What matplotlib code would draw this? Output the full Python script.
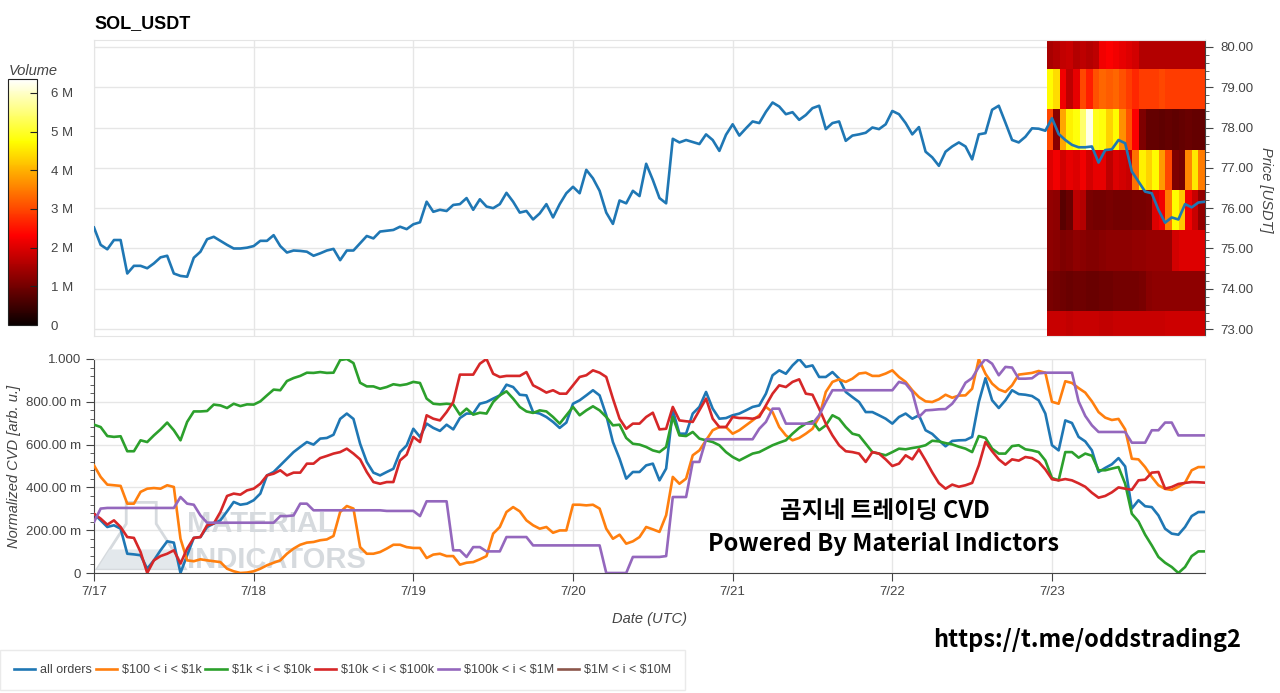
import numpy as np
import matplotlib
matplotlib.use('Agg')
import matplotlib.pyplot as plt
from matplotlib.ticker import MultipleLocator, FuncFormatter
from matplotlib.patches import Polygon

plt.rcParams['font.family'] = ['Liberation Sans', 'DejaVu Sans']

W, H = 1280, 693

# hourly samples, 7/17 00:00 .. 7/23 23:00 (UTC)
hours = np.arange(168)
day_ticks = [0, 24, 48, 72, 96, 120, 144]
day_labels = ['7/17', '7/18', '7/19', '7/20', '7/21', '7/22', '7/23']

price = [
    75.52, 75.09, 74.98, 75.21, 75.21, 74.38, 74.57, 74.57, 74.51, 74.63,
    74.78, 74.82, 74.38, 74.32, 74.30, 74.77, 74.92, 75.23, 75.29, 75.19,
    75.09, 75.00, 75.00, 75.02, 75.06, 75.19, 75.19, 75.33, 75.06, 74.90,
    74.95, 74.94, 74.92, 74.82, 74.88, 74.95, 74.99, 74.71, 74.95, 74.95,
    75.13, 75.31, 75.25, 75.42, 75.44, 75.46,
    75.54, 75.48, 75.60, 75.65, 76.16, 75.91, 75.96, 75.93, 76.08, 76.10,
    76.25, 75.96, 76.22, 76.04, 76.00, 76.10, 76.38, 76.16, 75.89, 75.93,
    75.72, 75.87, 76.10, 75.77, 76.10, 76.37, 76.53, 76.37, 76.95, 76.74,
    76.43, 75.89, 75.61, 76.19, 76.12, 76.43, 76.30, 77.10, 76.70, 76.25,
    76.12, 77.72, 77.63, 77.69, 77.64, 77.59, 77.83, 77.69, 77.42, 77.82,
    78.08, 77.80, 77.98, 78.15, 78.11, 78.39, 78.62, 78.52, 78.33, 78.38,
    78.19, 78.31, 78.48, 78.54, 77.96, 78.11, 78.15, 77.67, 77.80, 77.83,
    77.87, 78.00, 77.96, 78.08, 78.41, 78.33, 78.11, 77.83, 78.01, 77.40,
    77.26, 77.05, 77.40, 77.53, 77.63, 77.53, 77.21, 77.83, 77.86, 78.44,
    78.54, 78.12, 77.69, 77.63, 77.77, 77.98, 77.97, 77.92,
    78.23, 77.84, 77.69, 77.57, 77.51, 77.51, 77.53, 77.13, 77.44, 77.46,
    77.69, 77.61, 76.91, 76.66, 76.41, 76.37, 75.96, 75.64, 75.77, 75.72,
    76.10, 76.02, 76.14, 76.16,
]

cvd_all = [
    0.277, 0.246, 0.215, 0.223, 0.207, 0.090, 0.087, 0.083, 0.020, 0.059,
    0.106, 0.148, 0.142, 0.000, 0.083, 0.164, 0.168, 0.215, 0.231, 0.246,
    0.288, 0.332, 0.319, 0.324, 0.340, 0.371, 0.456, 0.472, 0.503, 0.534,
    0.565, 0.589, 0.612, 0.600, 0.628, 0.631, 0.646, 0.720, 0.745, 0.720,
    0.604, 0.519, 0.469, 0.456,
    0.472, 0.487, 0.565, 0.596, 0.674, 0.636, 0.698, 0.678, 0.664, 0.693,
    0.671, 0.724, 0.745, 0.745, 0.791, 0.799, 0.815, 0.830, 0.880, 0.869,
    0.833, 0.830, 0.752, 0.745, 0.729, 0.706, 0.678, 0.703, 0.791, 0.807,
    0.830, 0.854, 0.830, 0.737, 0.612, 0.534, 0.441, 0.472, 0.472, 0.503,
    0.511, 0.433,
    0.488, 0.760, 0.651, 0.651, 0.745, 0.776, 0.846, 0.768, 0.721, 0.724,
    0.737, 0.745, 0.760, 0.776, 0.783, 0.838, 0.924, 0.947, 0.931, 0.970,
    1.000, 0.963, 0.970, 0.916, 0.916, 0.939, 0.908, 0.846, 0.822, 0.799,
    0.752, 0.752, 0.737, 0.721, 0.698, 0.729, 0.745, 0.721, 0.737, 0.667,
    0.650, 0.620, 0.592, 0.617, 0.620, 0.621, 0.636, 0.799, 0.910, 0.807,
    0.771, 0.807, 0.854, 0.836, 0.833, 0.827, 0.807, 0.745, 0.597, 0.573,
    0.713, 0.701, 0.636, 0.615, 0.573, 0.472, 0.491, 0.508, 0.537, 0.498,
    0.301, 0.340, 0.312, 0.308, 0.269, 0.207, 0.184, 0.179, 0.215, 0.266,
    0.285, 0.285,
]

cvd_100_1k = [
    0.503, 0.449, 0.413, 0.410, 0.407, 0.324, 0.324, 0.379, 0.394, 0.397,
    0.394, 0.410, 0.402, 0.160, 0.059, 0.055, 0.064, 0.059, 0.055, 0.051,
    0.020, 0.008, 0.000, 0.002, 0.008, 0.020, 0.036, 0.048, 0.059, 0.090,
    0.114, 0.132, 0.142, 0.145, 0.153, 0.157, 0.173, 0.285, 0.313, 0.301,
    0.121, 0.090, 0.090, 0.098,
    0.114, 0.132, 0.132, 0.121, 0.117, 0.117, 0.070, 0.086, 0.090, 0.079,
    0.079, 0.039, 0.048, 0.051, 0.064, 0.079, 0.184, 0.215, 0.285, 0.308,
    0.288, 0.246, 0.223, 0.207, 0.215, 0.188, 0.199, 0.199, 0.319, 0.319,
    0.316, 0.319, 0.301, 0.207, 0.160, 0.179, 0.137, 0.148, 0.168, 0.215,
    0.204, 0.192,
    0.270, 0.449, 0.417, 0.441, 0.550, 0.573, 0.620, 0.667, 0.682, 0.682,
    0.651, 0.667, 0.690, 0.713, 0.737, 0.776, 0.752, 0.682, 0.643, 0.620,
    0.631, 0.651, 0.674, 0.729, 0.846, 0.893, 0.905, 0.893, 0.908, 0.932,
    0.936, 0.921, 0.921, 0.932, 0.947, 0.916, 0.893, 0.854, 0.822, 0.802,
    0.799, 0.812, 0.833, 0.819, 0.829, 0.830, 0.861, 1.000, 0.931, 0.885,
    0.858, 0.846, 0.877, 0.927, 0.931, 0.935, 0.944, 0.936, 0.800, 0.791,
    0.896, 0.888, 0.864, 0.843, 0.802, 0.752, 0.726, 0.715, 0.720, 0.671,
    0.534, 0.531, 0.495, 0.449, 0.410, 0.393, 0.388, 0.403, 0.422, 0.480,
    0.495, 0.495,
]

cvd_1k_10k = [
    0.693, 0.682, 0.640, 0.636, 0.639, 0.569, 0.569, 0.620, 0.612, 0.643,
    0.671, 0.703, 0.667, 0.620, 0.706, 0.755, 0.755, 0.757, 0.787, 0.783,
    0.771, 0.791, 0.780, 0.788, 0.787, 0.802, 0.830, 0.857, 0.854, 0.897,
    0.911, 0.921, 0.936, 0.935, 0.939, 0.935, 0.936, 0.995, 1.000, 0.981,
    0.889, 0.872, 0.872, 0.861,
    0.869, 0.882, 0.877, 0.882, 0.893, 0.888, 0.815, 0.791, 0.788, 0.791,
    0.788, 0.740, 0.768, 0.740, 0.749, 0.745, 0.799, 0.830, 0.849, 0.815,
    0.776, 0.755, 0.748, 0.760, 0.755, 0.729, 0.698, 0.737, 0.776, 0.737,
    0.760, 0.779, 0.760, 0.729, 0.690, 0.693, 0.631, 0.604, 0.600, 0.589,
    0.573, 0.565,
    0.589, 0.729, 0.643, 0.640, 0.659, 0.628, 0.620, 0.612, 0.597, 0.565,
    0.542, 0.526, 0.542, 0.558, 0.565, 0.581, 0.597, 0.609, 0.620, 0.651,
    0.678, 0.698, 0.709, 0.667, 0.690, 0.737, 0.721, 0.682, 0.651, 0.643,
    0.604, 0.565, 0.558, 0.550, 0.565, 0.581, 0.578, 0.584, 0.589, 0.597,
    0.618, 0.615, 0.607, 0.601, 0.590, 0.581, 0.565, 0.640, 0.631, 0.581,
    0.558, 0.558, 0.593, 0.597, 0.578, 0.573, 0.565, 0.526, 0.444, 0.433,
    0.565, 0.565, 0.539, 0.558, 0.548, 0.480, 0.480, 0.488, 0.495, 0.417,
    0.277, 0.241, 0.179, 0.129, 0.075, 0.048, 0.028, 0.000, 0.028, 0.079,
    0.101, 0.101,
]

cvd_10k_100k = [
    0.277, 0.254, 0.226, 0.246, 0.215, 0.168, 0.164, 0.098, 0.000, 0.059,
    0.079, 0.090, 0.106, 0.044, 0.114, 0.164, 0.168, 0.223, 0.231, 0.285,
    0.360, 0.371, 0.366, 0.386, 0.394, 0.417, 0.456, 0.464, 0.480, 0.456,
    0.469, 0.469, 0.511, 0.511, 0.537, 0.547, 0.558, 0.565, 0.581, 0.558,
    0.531, 0.472, 0.425, 0.417,
    0.425, 0.425, 0.526, 0.553, 0.636, 0.612, 0.737, 0.721, 0.713, 0.752,
    0.799, 0.927, 0.927, 0.927, 0.978, 1.000, 0.931, 0.916, 0.921, 0.921,
    0.921, 0.939, 0.877, 0.861, 0.843, 0.854, 0.838, 0.838, 0.877, 0.916,
    0.924, 0.947, 0.936, 0.916, 0.815, 0.721, 0.674, 0.698, 0.698, 0.729,
    0.749, 0.671,
    0.674, 0.776, 0.713, 0.709, 0.706, 0.760, 0.815, 0.721, 0.682, 0.682,
    0.729, 0.724, 0.724, 0.721, 0.729, 0.783, 0.838, 0.877, 0.869, 0.893,
    0.905, 0.838, 0.833, 0.768, 0.698, 0.643, 0.597, 0.569, 0.565, 0.558,
    0.519, 0.565, 0.558, 0.531, 0.500, 0.511, 0.550, 0.531, 0.578, 0.526,
    0.470, 0.420, 0.394, 0.413, 0.403, 0.410, 0.421, 0.503, 0.612, 0.569,
    0.531, 0.506, 0.531, 0.525, 0.542, 0.537, 0.519, 0.484, 0.438, 0.433,
    0.439, 0.433, 0.419, 0.403, 0.375, 0.352, 0.360, 0.377, 0.400, 0.394,
    0.389, 0.433, 0.436, 0.469, 0.472, 0.394, 0.402, 0.416, 0.421, 0.425,
    0.424, 0.422,
]

cvd_100k_1m = [
    0.238, 0.301, 0.304, 0.304, 0.304, 0.304, 0.304, 0.304, 0.304, 0.304,
    0.304, 0.304, 0.304, 0.355, 0.324, 0.319, 0.269, 0.235, 0.235, 0.235,
    0.235, 0.235, 0.235, 0.235, 0.235, 0.235, 0.235, 0.235, 0.266, 0.266,
    0.269, 0.324, 0.324, 0.293, 0.293, 0.293, 0.293, 0.293, 0.293, 0.293,
    0.293, 0.293, 0.293, 0.293,
    0.290, 0.290, 0.290, 0.290, 0.290, 0.266, 0.335, 0.335, 0.335, 0.335,
    0.106, 0.106, 0.075, 0.121, 0.121, 0.101, 0.101, 0.101, 0.168, 0.168,
    0.168, 0.168, 0.129, 0.129, 0.129, 0.129, 0.129, 0.129, 0.129, 0.129,
    0.129, 0.129, 0.129, 0.000, 0.000, 0.000, 0.000, 0.075, 0.075, 0.075,
    0.075, 0.075,
    0.079, 0.355, 0.355, 0.355, 0.519, 0.519, 0.625, 0.625, 0.625, 0.625,
    0.625, 0.625, 0.625, 0.625, 0.674, 0.706, 0.768, 0.768, 0.698, 0.698,
    0.698, 0.698, 0.698, 0.737, 0.799, 0.854, 0.854, 0.854, 0.854, 0.854,
    0.854, 0.854, 0.854, 0.854, 0.854, 0.893, 0.885, 0.846, 0.729, 0.760,
    0.762, 0.765, 0.766, 0.791, 0.833, 0.889, 0.911, 0.963, 1.000, 0.978,
    0.924, 0.963, 0.960, 0.908, 0.908, 0.910, 0.933, 0.936, 0.936, 0.936,
    0.936, 0.936, 0.802, 0.734, 0.690, 0.659, 0.659, 0.659, 0.659, 0.659,
    0.609, 0.609, 0.609, 0.667, 0.667, 0.703, 0.703, 0.643, 0.643, 0.643,
    0.643, 0.643,
]

# order-book volume heatmap on the last day (millions), price bins 73..80
hm_price_edges = [72.45, 73.45, 74.45, 75.45, 76.45, 77.45, 78.45, 79.45, 80.45]
hm_start, hm_end = 143.2, 167.0
vol_73 = [1.8, 1.8, 1.8, 1.75, 1.8, 1.8, 1.8, 1.8, 1.75, 1.75, 1.8, 1.8,
          1.8, 1.8, 1.8, 1.8, 1.8, 1.8, 1.85, 1.85, 1.85, 1.85, 1.85, 1.85]
vol_74 = [1.05, 1.0, 0.95, 0.9, 0.95, 0.95, 0.9, 0.9, 0.95, 0.95, 1.0, 1.0,
          1.0, 1.0, 1.05, 1.2, 1.25, 1.25, 1.25, 1.25, 1.25, 1.25, 1.25, 1.25]
vol_75 = [1.25, 1.2, 1.1, 1.15, 1.25, 1.2, 1.15, 1.15, 1.2, 1.25, 1.25, 1.25,
          1.25, 1.3, 1.3, 1.35, 1.35, 1.35, 1.35, 1.9, 2.0, 2.0, 2.0, 2.0]
vol_76 = [1.3, 1.25, 0.75, 0.9, 1.7, 1.6, 1.05, 1.0, 1.0, 1.05, 1.0, 1.0,
          1.0, 1.05, 1.05, 1.1, 2.0, 2.2, 3.5, 4.7, 4.2, 2.2, 1.8, 1.3]
vol_77 = [2.0, 2.2, 1.9, 2.1, 2.0, 2.2, 1.9, 2.1, 2.1, 1.7, 2.0, 1.9,
          1.8, 3.4, 4.6, 4.3, 4.7, 3.8, 3.0, 1.1, 1.0, 3.6, 4.5, 3.5]
vol_78 = [3.0, 1.2, 3.9, 4.6, 4.8, 5.4, 6.2, 4.9, 4.8, 4.3, 4.7, 3.7,
          3.1, 2.3, 1.1, 0.85, 0.85, 0.8, 0.85, 0.8, 0.85, 0.9, 0.85, 0.85]
vol_79 = [4.7, 4.4, 2.2, 1.7, 2.1, 3.0, 2.6, 3.1, 3.3, 3.2, 3.3, 3.1,
          2.9, 2.7, 2.9, 2.9, 2.9, 3.0, 2.9, 2.9, 2.9, 2.9, 2.9, 2.9]
vol_80 = [1.5, 1.6, 1.75, 1.8, 1.6, 1.7, 1.6, 1.7, 2.2, 2.3, 2.2, 2.1,
          2.0, 1.9, 1.6, 1.6, 1.6, 1.6, 1.6, 1.6, 1.6, 1.6, 1.6, 1.6]
vol_max = 6.36

series = [
    (cvd_all, 'all orders', '#1f77b4'),
    (cvd_100_1k, r'\$100 < i < \$1k', '#ff7f0e'),
    (cvd_1k_10k, r'\$1k < i < \$10k', '#2ca02c'),
    (cvd_10k_100k, r'\$10k < i < \$100k', '#d62728'),
    (cvd_100k_1m, r'\$100k < i < \$1M', '#9467bd'),
]

grid_c = '#e6e6e6'
axis_c = '#444444'
wm_c = '#d6dade'

fig = plt.figure(figsize=(W / 100, H / 100), dpi=100)
ax1 = fig.add_axes([94 / W, 1 - 336 / H, 1111 / W, 296 / H])
ax2 = fig.add_axes([94 / W, 1 - 573 / H, 1111 / W, 214 / H])
cax = fig.add_axes([8 / W, 1 - 325 / H, 29 / W, 246 / H])

# --- price panel ---
vol = np.array([vol_73, vol_74, vol_75, vol_76, vol_77, vol_78, vol_79, vol_80])
t_edges = np.linspace(hm_start, hm_end, vol.shape[1] + 1)
mesh = ax1.pcolormesh(t_edges, hm_price_edges, vol, cmap='hot', vmin=0,
                      vmax=vol_max, shading='flat', zorder=1)
ax1.plot(hours, price, color='#1f77b4', lw=1.9, zorder=3)
ax1.set_xlim(0, 167)
ax1.set_ylim(72.83, 80.17)
ax1.yaxis.tick_right()
ax1.yaxis.set_major_locator(MultipleLocator(1))
ax1.yaxis.set_minor_locator(MultipleLocator(0.2))
ax1.yaxis.set_major_formatter(FuncFormatter(lambda v, p: f'{v:.2f}'))
ax1.set_xticks(day_ticks)
ax1.set_xticklabels([])
ax1.tick_params(axis='x', length=0)
ax1.tick_params(axis='y', which='major', length=6, color=axis_c,
                labelcolor=axis_c, labelsize=9.5, pad=5)
ax1.tick_params(axis='y', which='minor', length=3, color=axis_c)
ax1.grid(True, color=grid_c, lw=1)
ax1.set_axisbelow(True)
for s in ['top', 'left', 'bottom']:
    ax1.spines[s].set_color('#e5e5e5')
ax1.spines['right'].set_color(axis_c)

fig.text(94 / W, 1 - 28 / H, 'SOL_USDT', fontsize=13, fontweight='bold')
fig.text(1266 / W, 1 - 190 / H, 'Price [USDT]', rotation=-90, ha='center',
         va='center', style='italic', fontsize=10.5, color=axis_c)

# --- colorbar ---
cb = fig.colorbar(mesh, cax=cax)
cb.set_ticks([0, 1, 2, 3, 4, 5, 6])
cb.set_ticklabels(['0', '1 M', '2 M', '3 M', '4 M', '5 M', '6 M'])
cax.tick_params(direction='in', length=5, color='#222222', labelcolor=axis_c,
                labelsize=9.5, pad=10)
cb.outline.set_edgecolor('#222222')
fig.text(9 / W, 1 - 75 / H, 'Volume', style='italic', fontsize=10.5,
         color=axis_c)

# --- CVD panel ---
# faint "Material Indicators" watermark (flask + name)
flask = Polygon([(0.029, 0.33), (0.029, 0.23), (0.003, 0.02), (0.082, 0.02),
                 (0.056, 0.23), (0.056, 0.33)], closed=True, fill=False,
                edgecolor=wm_c, lw=2, transform=ax2.transAxes, zorder=1)
ax2.add_patch(flask)
liquid = Polygon([(0.014, 0.11), (0.071, 0.11), (0.082, 0.02), (0.003, 0.02)],
                 closed=True, facecolor='#e3e8ec', edgecolor='none',
                 transform=ax2.transAxes, zorder=1)
ax2.add_patch(liquid)
ax2.text(0.084, 0.19, 'MATERIAL', transform=ax2.transAxes, fontsize=21,
         fontweight='bold', color=wm_c, zorder=1)
ax2.text(0.084, 0.025, 'INDICATORS', transform=ax2.transAxes, fontsize=21,
         fontweight='bold', color=wm_c, zorder=1)

handles = []
for vals, lab, col in series:
    ln, = ax2.plot(hours, vals, color=col, lw=1.9, label=lab, zorder=3)
    handles.append(ln)
ln, = ax2.plot([], [], color='#8c564b', lw=1.9, label=r'\$1M < i < \$10M')
handles.append(ln)

ax2.set_xlim(0, 167)
ax2.set_ylim(0, 1)
ax2.set_xticks(day_ticks)
ax2.set_xticklabels(day_labels)
ax2.yaxis.set_major_locator(MultipleLocator(0.2))
ax2.yaxis.set_minor_locator(MultipleLocator(0.04))


def cvd_fmt(v, p):
    if abs(v) < 1e-9:
        return '0'
    if abs(v - 1) < 1e-9:
        return '1.000'
    return f'{v * 1000:.2f} m'


ax2.yaxis.set_major_formatter(FuncFormatter(cvd_fmt))
ax2.tick_params(which='major', length=6, color=axis_c, labelcolor=axis_c,
                labelsize=9.5)
ax2.tick_params(which='minor', length=3, color=axis_c)
ax2.tick_params(axis='x', which='minor', length=0)
ax2.grid(True, color=grid_c, lw=1)
ax2.set_axisbelow(True)
for s in ['top', 'right']:
    ax2.spines[s].set_color('#e5e5e5')
for s in ['left', 'bottom']:
    ax2.spines[s].set_color(axis_c)
ax2.set_xlabel('Date (UTC)', style='italic', fontsize=10.5, color=axis_c,
               labelpad=10)
ax2.set_ylabel('Normalized CVD [arb. u.]', style='italic', fontsize=10.5,
               color=axis_c)
ax2.yaxis.set_label_coords(-0.066, 0.5)

fig.legend(handles=handles, loc='center left',
           bbox_to_anchor=(0.0, 1 - 670 / H), borderaxespad=0, ncol=6,
           fontsize=9, frameon=True, fancybox=False, edgecolor='#e5e5e5',
           handlelength=1.7, handletextpad=0.4, columnspacing=0.3,
           borderpad=1.1, labelcolor=axis_c)

kr = ['Noto Sans CJK KR', 'DejaVu Sans']
fig.text(885 / W, 1 - 518 / H, '곰지네 트레이딩 CVD', ha='center', va='baseline',
         fontsize=17, fontweight='bold', family=kr)
fig.text(883 / W, 1 - 551 / H, 'Powered By Material Indictors', ha='center',
         va='baseline', fontsize=17, fontweight='bold', family=kr)
fig.text(933 / W, 1 - 647 / H, 'https://t.me/oddstrading2', ha='left',
         va='baseline', fontsize=17, fontweight='bold', family=kr)

fig.savefig('out.png', dpi=100)
